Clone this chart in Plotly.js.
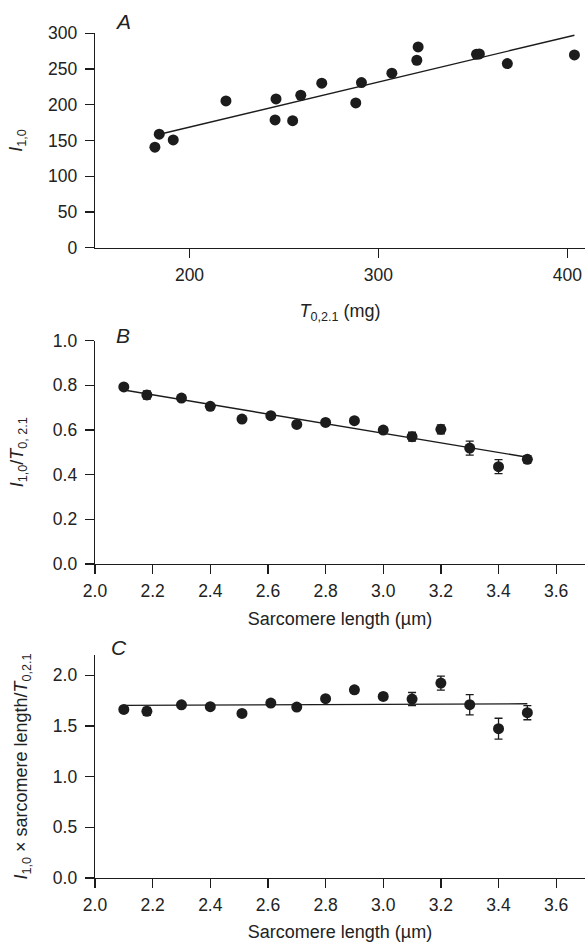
<!DOCTYPE html>
<html>
<head>
<meta charset="utf-8">
<script src="https://cdn.plot.ly/plotly-3.0.1.min.js"></script>
<style>
  html, body { margin: 0; padding: 0; background: #ffffff; }
  #chart { width: 586px; height: 942px; }
</style>
</head>
<body>
<div id="chart"></div>
<script>
// ---------- Panel A: I1,0 vs T0,2.1 ----------
const tensionA = [181.7, 184.0, 191.4, 219.3, 245.8, 245.3, 254.6, 258.9, 270.0, 288.0, 291.0, 307.1, 320.3, 321.0, 351.9, 353.4, 368.2, 403.7];
const intensityA = [140.6, 158.8, 150.8, 205.4, 208.2, 178.8, 177.8, 213.3, 230.2, 202.6, 231.0, 244.2, 262.3, 281.0, 270.7, 271.2, 257.6, 269.8];
const fitAx = [186.4, 403.7];
const fitAy = [160.2, 297.3];

// ---------- Panels B and C: vs sarcomere length ----------
const sarcomereLength = [2.10, 2.18, 2.30, 2.40, 2.51, 2.61, 2.70, 2.80, 2.90, 3.00, 3.10, 3.20, 3.30, 3.40, 3.50];
const ratioB = [0.793, 0.757, 0.743, 0.706, 0.649, 0.664, 0.625, 0.634, 0.642, 0.600, 0.570, 0.603, 0.519, 0.436, 0.469];
const errB   = [0.008, 0.018, 0.010, 0.010, 0.008, 0.008, 0.008, 0.008, 0.008, 0.010, 0.020, 0.020, 0.031, 0.031, 0.016];
const fitBx = [2.10, 3.50];
const fitBy = [0.779, 0.478];

const productC = [1.663, 1.644, 1.709, 1.690, 1.624, 1.726, 1.686, 1.769, 1.857, 1.791, 1.765, 1.923, 1.710, 1.473, 1.631];
const errC     = [0.020, 0.040, 0.020, 0.020, 0.020, 0.020, 0.020, 0.020, 0.030, 0.030, 0.065, 0.069, 0.100, 0.103, 0.070];
const fitCx = [2.10, 3.50];
const fitCy = [1.703, 1.719];

const ticksA_x = [200, 300, 400];
const ticksA_y = [0, 50, 100, 150, 200, 250, 300];
const ticksB_x = [2.0, 2.2, 2.4, 2.6, 2.8, 3.0, 3.2, 3.4, 3.6];
const ticksB_y = [0.0, 0.2, 0.4, 0.6, 0.8, 1.0];
const ticksC_y = [0.0, 0.5, 1.0, 1.5, 2.0];

const INK = '#1c1c1c';
const marker = { size: 11, color: INK, line: { width: 0 } };
const fitLine = { color: INK, width: 1.4 };

const traces = [
  { x: fitAx, y: fitAy, mode: 'lines', line: fitLine, xaxis: 'x', yaxis: 'y', hoverinfo: 'skip' },
  { x: tensionA, y: intensityA, mode: 'markers', marker: marker, xaxis: 'x', yaxis: 'y' },

  { x: fitBx, y: fitBy, mode: 'lines', line: fitLine, xaxis: 'x2', yaxis: 'y2', hoverinfo: 'skip' },
  { x: sarcomereLength, y: ratioB, mode: 'markers', marker: marker, xaxis: 'x2', yaxis: 'y2',
    error_y: { type: 'data', array: errB, visible: true, color: INK, thickness: 1.3, width: 4 } },

  { x: fitCx, y: fitCy, mode: 'lines', line: fitLine, xaxis: 'x3', yaxis: 'y3', hoverinfo: 'skip' },
  { x: sarcomereLength, y: productC, mode: 'markers', marker: marker, xaxis: 'x3', yaxis: 'y3',
    error_y: { type: 'data', array: errC, visible: true, color: INK, thickness: 1.3, width: 4 } }
];

const FAMILY = 'Liberation Sans, Arial, Helvetica, sans-serif';
const tickFont = { family: FAMILY, size: 17.5, color: '#222' };
const titleFont = { family: FAMILY, size: 18, color: '#222' };

function yAxisBase(extra) {
  return Object.assign({
    showline: true, linecolor: INK, linewidth: 1.3,
    ticks: 'outside', ticklen: 9, tickwidth: 1.3, tickcolor: INK, ticklabelstandoff: 4,
    showgrid: false, zeroline: false, tickfont: tickFont,
    automargin: false, fixedrange: true
  }, extra);
}
function xAxisBase(extra) {
  return Object.assign({
    showline: true, linecolor: INK, linewidth: 1.3,
    ticks: 'outside', ticklen: 9, tickwidth: 1.3, tickcolor: INK, ticklabelstandoff: 2,
    showgrid: false, zeroline: false, tickfont: tickFont,
    automargin: false, fixedrange: true
  }, extra);
}

const W = 586, H = 942;
const domA = [1 - 247.7 / H, 1 - 33.3 / H];
const domB = [1 - 564.0 / H, 1 - 340.7 / H];
const domC = [1 - 878.0 / H, 1 - 655.0 / H];

const letterFont = { family: FAMILY, size: 21, color: '#222' };

const layout = {
  width: W, height: H,
  margin: { l: 95, r: 1, t: 0, b: 0 },
  paper_bgcolor: '#ffffff', plot_bgcolor: '#ffffff',
  showlegend: false,
  font: tickFont,
  xaxis: xAxisBase({ anchor: 'y', domain: [0, 1], range: [150, 409.3], tickmode: 'array', tickvals: ticksA_x,
    title: { text: '<i>T</i><sub>0,2.1</sub> (mg)', font: titleFont, standoff: 20 } }),
  yaxis: yAxisBase({ anchor: 'x', domain: domA, range: [0, 300], tickmode: 'array', tickvals: ticksA_y,
    title: { text: '<i>I</i><sub>1,0</sub>', font: titleFont, standoff: 20 } }),

  xaxis2: xAxisBase({ anchor: 'y2', domain: [0, 1], range: [2.0, 3.7], tickmode: 'array', tickvals: ticksB_x, tickformat: '.1f',
    title: { text: 'Sarcomere length (µm)', font: titleFont, standoff: 12 } }),
  yaxis2: yAxisBase({ anchor: 'x2', domain: domB, range: [0, 1.0], tickmode: 'array', tickvals: ticksB_y, tickformat: '.1f',
    title: { text: '<i>I</i><sub>1,0</sub>/<i>T</i><sub>0, 2.1</sub>', font: titleFont, standoff: 24 } }),

  xaxis3: xAxisBase({ anchor: 'y3', domain: [0, 1], range: [2.0, 3.7], tickmode: 'array', tickvals: ticksB_x, tickformat: '.1f',
    title: { text: 'Sarcomere length (µm)', font: titleFont, standoff: 12 } }),
  yaxis3: yAxisBase({ anchor: 'x3', domain: domC, range: [0, 2.2], tickmode: 'array', tickvals: ticksC_y, tickformat: '.1f',
    title: { text: '<i>I</i><sub>1,0</sub> × sarcomere length/<i>T</i><sub>0,2.1</sub>', font: titleFont, standoff: 20 } }),

  annotations: [
    { text: '<i>A</i>', xref: 'paper', yref: 'paper', x: (123 - 95) / 490, y: 1 - 21.7 / H, xanchor: 'center', yanchor: 'middle', showarrow: false, font: letterFont },
    { text: '<i>B</i>', xref: 'paper', yref: 'paper', x: (123 - 95) / 490, y: 1 - 335 / H, xanchor: 'center', yanchor: 'middle', showarrow: false, font: letterFont },
    { text: '<i>C</i>', xref: 'paper', yref: 'paper', x: (119 - 95) / 490, y: 1 - 647 / H, xanchor: 'center', yanchor: 'middle', showarrow: false, font: letterFont }
  ]
};

Plotly.newPlot('chart', traces, layout, { staticPlot: true, displayModeBar: false });
</script>
</body>
</html>
